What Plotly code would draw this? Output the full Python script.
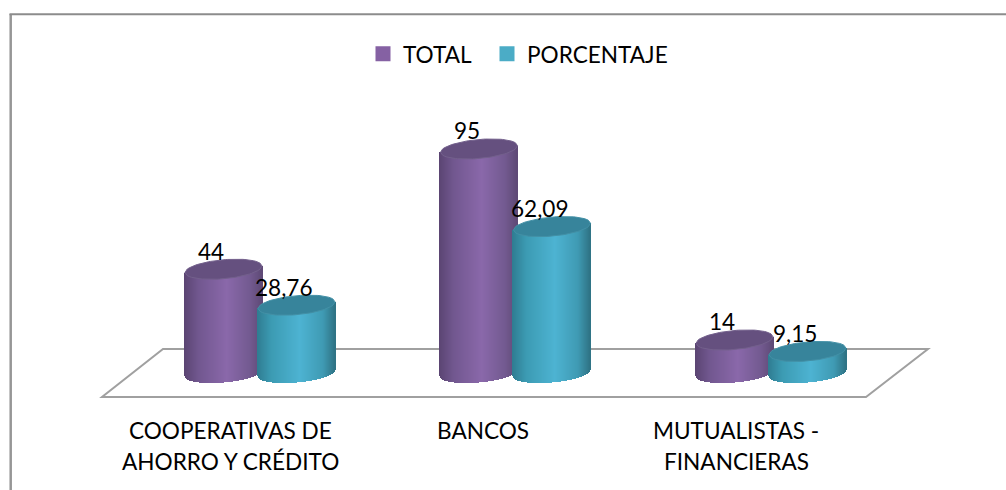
"""Cooperativas / bancos / mutualistas chart with cylinder bars."""
import plotly.graph_objects as go

CATEGORIES_LINE1 = ["COOPERATIVAS DE", "BANCOS", "MUTUALISTAS -"]
CATEGORIES_LINE2 = ["AHORRO Y CRÉDITO", "", "FINANCIERAS"]
SERIES_NAMES = ["TOTAL", "PORCENTAJE"]
TOTAL = [44, 95, 14]
PORCENTAJE = [28.76, 62.09, 9.15]
TOTAL_LABELS = ["44", "95", "14"]
PORCENTAJE_LABELS = ["28,76", "62,09", "9,15"]

W, H = 1006, 490
FONT = "Lato"
TEXT_SIZE = 22.6

# axis scale of the picture
PX_PER_CAT = 255.5
PX_PER_VAL = 2.358
X0_PX = 260.0
Y0_PX = 373.0

# cylinder shape, in pixels
RX = 38.5
RY = 9.5
TILT = 3.3
OFFSET_PX = 36.5

# category labels are not quite under the cylinders
LABEL_X_PX = 230
LABEL_STEP_PX = 253

# shade across one cylinder, dark edge -> light middle -> dark edge
SHADES = {
    "TOTAL": [(0.0, "#5b4573"), (0.18, "#71578f"), (0.55, "#8a68aa"), (0.85, "#735a90"), (1.0, "#5f4a77")],
    "PORCENTAJE": [(0.0, "#2f7d92"), (0.18, "#3c9bb3"), (0.55, "#4db3d2"), (0.85, "#3f9ab3"), (1.0, "#2f7486")],
}
CAP_COLOURS = {"TOTAL": "#65507f", "PORCENTAJE": "#37849b"}
CAP_RIM = {"TOTAL": "#73608c", "PORCENTAJE": "#4390a6"}
SWATCHES = {"TOTAL": "#8561a3", "PORCENTAJE": "#4bacc6"}
LEGEND_X_PX = {"TOTAL": 373, "PORCENTAJE": 497}


def px_x(px):
    return (px - X0_PX) / PX_PER_CAT


def px_y(px):
    return px / PX_PER_VAL


def shade(stops, f):
    for (f0, c0), (f1, c1) in zip(stops, stops[1:]):
        if f <= f1:
            t = (f - f0) / (f1 - f0)
            rgb = [round(int(c0[i:i + 2], 16) * (1 - t) + int(c1[i:i + 2], 16) * t) for i in (1, 3, 5)]
            return "rgb(%d,%d,%d)" % tuple(rgb)
    return stops[-1][1]


def cylinder(cat, offset, value, name):
    """One cylinder as 1px bars, with the cap on top as a filled ellipse."""
    xs, bases, heights, colours = [], [], [], []
    steps = int(RX * 2)
    for k in range(steps + 1):
        f = k / steps
        u = 2 * f - 1
        bulge = RY * (1 - u * u) ** 0.5
        # lower edge of the floor ellipse at this column
        bottom = -bulge + TILT * u
        top = value * PX_PER_VAL + TILT * u
        xs.append(cat + px_x(X0_PX + offset + u * RX))
        bases.append(px_y(bottom))
        heights.append(px_y(top - bottom))
        colours.append(shade(SHADES[name], f))
    bars = go.Bar(x=xs, y=heights, base=bases, width=1.6 / PX_PER_CAT, marker=dict(color=colours, line_width=0),
                  showlegend=False, hoverinfo="skip")

    top_half = [2 * k / 36 - 1 for k in range(37)]
    outline = [(u, 1) for u in top_half] + [(u, -1) for u in reversed(top_half)]
    cap_x = [cat + px_x(X0_PX + offset + u * RX) for u, _ in outline]
    cap_y = [value + px_y(TILT * u + s * RY * (1 - u * u) ** 0.5) for u, s in outline]
    cap = go.Scatter(x=cap_x, y=cap_y, mode="lines", fill="toself", fillcolor=CAP_COLOURS[name],
                     line=dict(color=CAP_RIM[name], width=1), showlegend=False, hoverinfo="skip")
    return [bars, cap]


fig = go.Figure()

# legend entries, one legend each so the gap between them can follow the picture
for name, legend_id in zip(SERIES_NAMES, ("legend", "legend2")):
    fig.add_trace(go.Scatter(x=[None], y=[None], mode="markers", name=name, legend=legend_id,
                             marker=dict(symbol="square", size=15, color=SWATCHES[name])))

# draw back to front per category, PORCENTAJE sits in front of TOTAL
for i in range(len(TOTAL)):
    for tr in cylinder(i, -OFFSET_PX, TOTAL[i], "TOTAL"):
        fig.add_trace(tr)
    for tr in cylinder(i, OFFSET_PX, PORCENTAJE[i], "PORCENTAJE"):
        fig.add_trace(tr)

annotations = []
for i in range(len(TOTAL)):
    for value, text, offset in ((TOTAL[i], TOTAL_LABELS[i], -OFFSET_PX), (PORCENTAJE[i], PORCENTAJE_LABELS[i], OFFSET_PX)):
        annotations.append(dict(x=i + px_x(X0_PX + offset), y=value, text=text, showarrow=False, xshift=-12.5, yshift=18,
                                font=dict(size=TEXT_SIZE, color="#000000", family=FONT)))
    center = px_x(LABEL_X_PX + i * LABEL_STEP_PX)
    annotations.append(dict(x=center, y=0, text=CATEGORIES_LINE1[i], showarrow=False, yshift=-57,
                            font=dict(size=TEXT_SIZE, color="#000000", family=FONT)))
    annotations.append(dict(x=center, y=0, text=CATEGORIES_LINE2[i], showarrow=False, yshift=-88,
                            font=dict(size=TEXT_SIZE, color="#000000", family=FONT)))

# floor plate, centred on the zero line
floor_back = px_y(24)
floor_x = [px_x(163), px_x(928), px_x(866), px_x(102)]
floor_path = "M %f,%f L %f,%f L %f,%f L %f,%f Z" % (
    floor_x[0], floor_back, floor_x[1], floor_back, floor_x[2], -floor_back, floor_x[3], -floor_back)


def legend_style(name):
    return dict(orientation="h", x=LEGEND_X_PX[name] / W, xanchor="left", y=1 - 54 / H, yanchor="middle",
                font=dict(size=TEXT_SIZE, family=FONT), indentation=-10, bgcolor="rgba(0,0,0,0)",
                itemclick=False, itemdoubleclick=False)


fig.update_layout(
    width=W,
    height=H,
    margin=dict(l=0, r=0, t=0, b=0),
    paper_bgcolor="white",
    plot_bgcolor="white",
    barmode="overlay",
    bargap=0,
    font=dict(family=FONT, size=TEXT_SIZE, color="#000000"),
    showlegend=True,
    legend=legend_style("TOTAL"),
    legend2=legend_style("PORCENTAJE"),
    xaxis=dict(range=[-X0_PX / PX_PER_CAT, (W - X0_PX) / PX_PER_CAT], visible=False, fixedrange=True),
    yaxis=dict(range=[(Y0_PX - H) / PX_PER_VAL, Y0_PX / PX_PER_VAL], visible=False, fixedrange=True),
    annotations=annotations,
    shapes=[
        dict(type="path", path=floor_path, xref="x", yref="y", line=dict(color="#a0a0a0", width=2), fillcolor="white", layer="below"),
        dict(type="line", xref="paper", yref="paper", x0=10.7 / W, x1=10.7 / W, y0=0, y1=1 - 14 / H, line=dict(color="#969696", width=2.5)),
        dict(type="line", xref="paper", yref="paper", x0=9.5 / W, x1=1, y0=1 - 14.3 / H, y1=1 - 14.3 / H, line=dict(color="#8c8c8c", width=2)),
    ],
)

# the page's default body margin would push the fixed-size figure off by 8px
fig.write_html("out.html", post_script="document.body.style.margin='0';", config={"displayModeBar": False})
